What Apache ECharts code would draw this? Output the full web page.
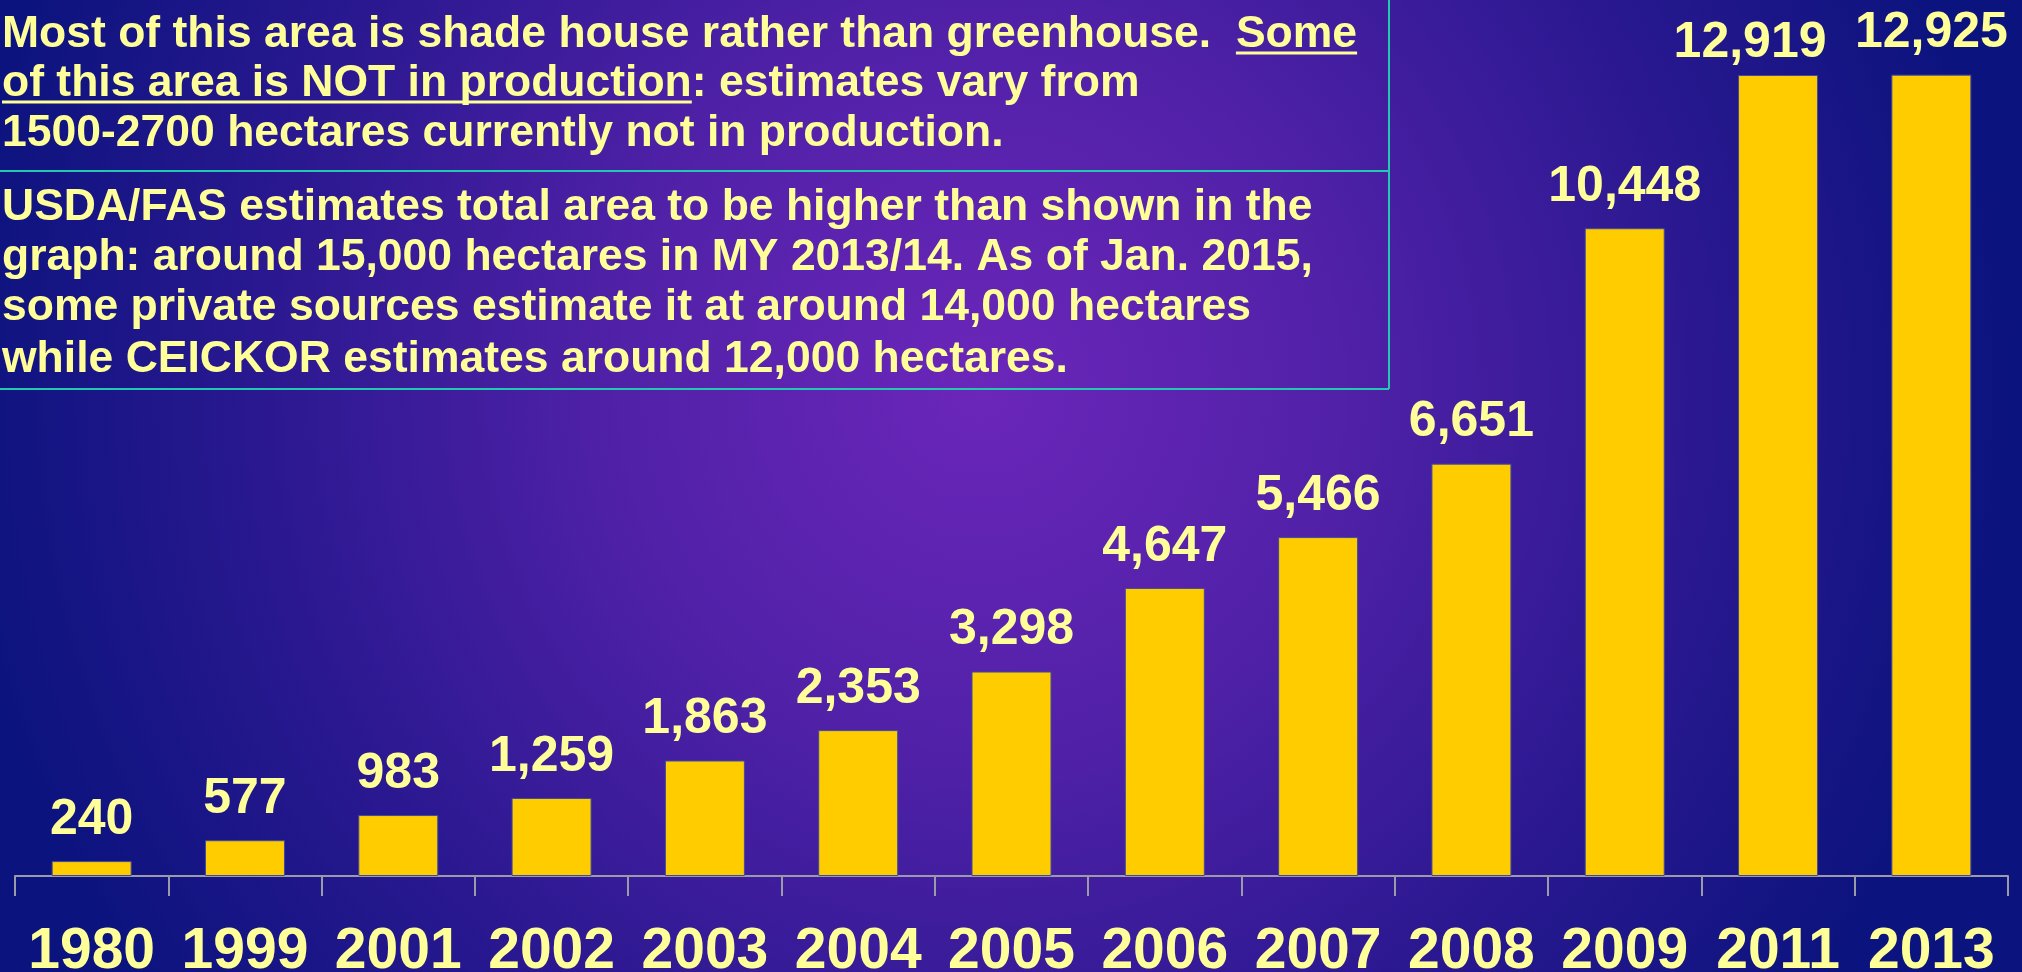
<!DOCTYPE html>
<html>
<head>
<meta charset="utf-8">
<script src="https://cdn.jsdelivr.net/npm/echarts@6/dist/echarts.min.js"></script>
<style>
  html, body { margin: 0; padding: 0; }
  #chart { width: 2022px; height: 972px; }
</style>
</head>
<body>
<div id="chart"></div>
<script>
    // data
    var years = ['1980', '1999', '2001', '2002', '2003', '2004', '2005', '2006', '2007', '2008', '2009', '2011', '2013'];
    var hectares = [240, 577, 983, 1259, 1863, 2353, 3298, 4647, 5466, 6651, 10448, 12919, 12925];

    // note box text: [plain, underlined, plain] per line
    var noteTop = [
        ['Most of this area is shade house rather than greenhouse.  ', 'Some', ''],
        ['', 'of this area is NOT in production', ': estimates vary from'],
        ['1500-2700 hectares currently not in production.', '', '']
    ];
    var noteBottom = [
        'USDA/FAS estimates total area to be higher than shown in the',
        'graph: around 15,000 hectares in MY 2013/14. As of Jan. 2015,',
        'some private sources estimate it at around 14,000 hectares',
        'while CEICKOR estimates around 12,000 hectares.'
    ];

    var yellow = '#FFFF99';
    var fontFamily = '"Liberation Sans", Arial, sans-serif';
    var noteSize = 44.5;
    var teal = '#22C8B0';

    var ctx = document.createElement('canvas').getContext('2d');
    ctx.font = 'bold ' + noteSize + 'px ' + fontFamily;
    function w(t) { return t ? ctx.measureText(t).width : 0; }

    var graphics = [];
    function addText(x, baseline, text) {
        if (!text) return;
        graphics.push({
            type: 'text', x: x, y: baseline - noteSize * 0.35, z: 10,
            style: {
                text: text, fill: yellow, fontSize: noteSize, fontWeight: 'bold',
                fontFamily: fontFamily, verticalAlign: 'middle', align: 'left'
            }
        });
    }
    function addLine(x1, y1, x2, y2, color, width) {
        graphics.push({
            type: 'line', z: 10,
            shape: {x1: x1, y1: y1, x2: x2, y2: y2},
            style: {stroke: color, lineWidth: width}
        });
    }

    var topBase = [50, 99, 149];
    noteTop.forEach(function (parts, i) {
        var x = 2;
        addText(x, topBase[i], parts[0]);
        x += w(parts[0]);
        if (parts[1]) {
            addText(x, topBase[i], parts[1]);
            addLine(x, topBase[i] + 3, x + w(parts[1]), topBase[i] + 3, yellow, 3);
            x += w(parts[1]);
        }
        addText(x, topBase[i], parts[2]);
    });
    var bottomBase = [223, 273, 323, 375];
    noteBottom.forEach(function (t, i) {
        addText(2, bottomBase[i], t);
    });
    // box borders
    addLine(1389, 0, 1389, 389, teal, 2);
    addLine(0, 171, 1389, 171, teal, 2);
    addLine(0, 389, 1389, 389, teal, 2);

    var barData = hectares.map(function (v, i) {
        var item = {value: v};
        if (i === 11) {
            item.label = {offset: [-28, 9]};
        }
        return item;
    });

    var chart = echarts.init(document.getElementById('chart'));
    chart.setOption({
        backgroundColor: {
            type: 'radial', x: 0.485, y: 0.4, r: 1.06,
            colorStops: [
                {offset: 0, color: '#6B26BA'},
                {offset: 0.35, color: '#5121A8'},
                {offset: 0.7, color: '#2A1890'},
                {offset: 1, color: '#0B137E'}
            ]
        },
        animation: false,
        grid: {
            left: 15,
            right: 14,
            top: 8,
            bottom: 96,
            outerBoundsMode: 'none',
            containLabel: false
        },
        xAxis: {
            type: 'category',
            data: years,
            axisLine: {
                lineStyle: {color: '#9A9AA8', width: 2}
            },
            axisTick: {
                show: true,
                alignWithLabel: false,
                interval: 0,
                length: 20,
                lineStyle: {color: '#9A9AA8', width: 2}
            },
            axisLabel: {
                interval: 0,
                color: yellow,
                fontSize: 57,
                fontWeight: 'bold',
                fontFamily: fontFamily,
                margin: 48
            }
        },
        yAxis: {
            type: 'value',
            min: 0,
            max: 14000,
            show: false
        },
        series: [{
            type: 'bar',
            data: barData,
            barWidth: 80,
            itemStyle: {
                color: '#FFCC00',
                borderColor: '#3E4A9E',
                borderWidth: 1
            },
            label: {
                show: true,
                position: 'top',
                distance: 16,
                color: yellow,
                fontSize: 50,
                fontWeight: 'bold',
                fontFamily: fontFamily,
                formatter: function (p) {
                    return p.value.toLocaleString('en-US');
                }
            }
        }],
        graphic: graphics
    });
</script>
</body>
</html>
